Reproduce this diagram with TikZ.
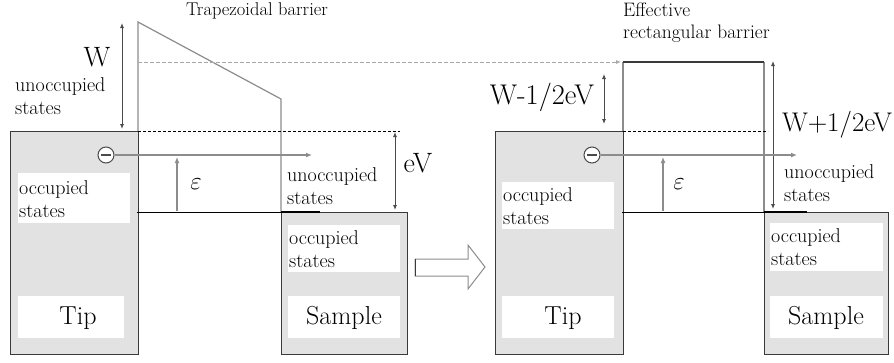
\documentclass[tikz,border=0pt]{standalone}
\usepackage{fontspec}
\usetikzlibrary{arrows.meta}
\definecolor{bandfill}{HTML}{E2E2E2}
\definecolor{bandline}{HTML}{3A3A3A}
\definecolor{barrierc}{HTML}{8C8C8C}
\definecolor{guidec}{HTML}{A8A8A8}
\definecolor{arrowc}{HTML}{4A4A4A}
\begin{document}
\begin{tikzpicture}[x=1pt,y=-1pt,
  band/.style={draw=bandline, line width=1.3pt, fill=bandfill, inner sep=0pt, anchor=north west},
  wbox/.style={fill=white, draw=none, inner sep=0pt, anchor=north west},
  small/.style={font=\fontsize{20}{23}\selectfont, align=left, inner sep=0pt},
  big/.style={font=\fontsize{28}{32}\selectfont, inner sep=0pt},
  label/.style={font=\fontsize{26}{30}\selectfont, inner sep=0pt},
  barrier/.style={draw=barrierc, line width=1.2pt},
  fermi/.style={draw=black, line width=0.9pt},
  fermithick/.style={draw=black, line width=2pt},
  levdash/.style={draw=black, line width=0.9pt, dash pattern=on 3pt off 2pt},
  guide/.style={draw=guidec, line width=0.8pt, dash pattern=on 4pt off 2pt},
  darr/.style={draw=arrowc, line width=0.9pt, {Latex[length=5pt,width=4pt]}-{Latex[length=5pt,width=4pt]}},
  garr/.style={draw=barrierc, line width=1.2pt, -{Latex[length=6pt,width=5pt]}},
  electron/.style={circle, draw=arrowc, line width=1pt, fill=white, minimum size=16pt, inner sep=0pt,
    path picture={\draw[arrowc, line width=1.2pt] ([xshift=-5pt]path picture bounding box.center) -- ([xshift=5pt]path picture bounding box.center);}}
]
\useasboundingbox (0,0) rectangle (894,362);

% ---------------- left panel ----------------
\node[band, minimum width=128pt, minimum height=223pt] (tipL) at (10,131) {};
\node[band, minimum width=126pt, minimum height=142pt] (smpL) at (281,212) {};
\node[wbox, minimum width=112pt, minimum height=50pt] (occL) at (18,173) {};
\node[small, anchor=west] (occLt) at ([xshift=1pt,yshift=-1pt]occL.west) {occupied\\states};
\node[wbox, minimum width=106pt, minimum height=42pt] (tipLbox) at (18,296) {};
\node[label] (tipLt) at (78,318) {Tip};
\node[wbox, minimum width=112pt, minimum height=47pt] (occSL) at (288,225) {};
\node[small, anchor=west] (occSLt) at ([xshift=1pt]occSL.west) {occupied\\states};
\node[wbox, minimum width=112pt, minimum height=42pt] (smpLbox) at (288,296) {};
\node[label] (smpLt) at (344,318) {Sample};

\coordinate (trapTop) at (138,22);
\coordinate (trapR) at (281,99);
\coordinate (trapB) at (281,212);
\coordinate (tipLtop) at (138,131);
\draw[barrier] (tipLtop) -- (trapTop) -- (trapR) -- (trapB);

\coordinate (guideS) at (138,62);
\coordinate (guideE) at (621,62);
\draw[guide, -{Latex[length=5pt,width=4pt]}, guidec] (guideS) -- (guideE);

\coordinate (dashLs) at (138,131);
\coordinate (dashLe) at (400,131);
\draw[levdash] (dashLs) -- (dashLe);

\coordinate (fermiLs) at (137,212);
\coordinate (fermiLm) at (281,212);
\coordinate (fermiLe) at (320,212);
\draw[fermi] (fermiLs) -- (fermiLm);
\draw[fermithick] (fermiLm) -- (fermiLe);

\coordinate (WaT) at (122,23);
\coordinate (WaB) at (122,129);
\draw[darr] (WaT) -- (WaB);
\node[big] (Wt) at (97,57) {W};
\node[small, anchor=west] (unoccL) at (15,96) {unoccupied\\states};

\coordinate (eVT) at (395,132);
\coordinate (eVB) at (395,210);
\draw[darr] (eVT) -- (eVB);
\node[big] (eVt) at (418,163) {eV};

\node[electron] (eL) at (106,155) {};
\coordinate (eLend) at (312,155);
\draw[garr] (eL) -- (eLend);

\coordinate (epsLb) at (177,211);
\coordinate (epsLt) at (177,157);
\draw[garr] (epsLb) -- (epsLt);
\node[big] (epsL) at (196,184) {$\varepsilon$};

\node[small, anchor=west] (unoccS) at (287,186) {unoccupied\\states};
\node[font=\fontsize{18.5}{22}\selectfont, inner sep=0pt] (trapt) at (257,11) {Trapezoidal barrier};

% hollow arrow
\draw[draw=barrierc, line width=1pt, fill=white] (415,259) -- (468,259) -- (468,245) -- (485,267) -- (468,289) -- (468,276) -- (415,276) -- cycle;
\draw[bandline, line width=1pt] (415,259) -- (415,276);

% ---------------- right panel ----------------
\node[band, minimum width=128pt, minimum height=223pt] (tipR) at (495,131) {};
\node[band, minimum width=124pt, minimum height=142pt] (smpR) at (764,212) {};
\node[wbox, minimum width=112pt, minimum height=47pt] (occR) at (502,182) {};
\node[small, anchor=west] (occRt) at ([xshift=1pt]occR.west) {occupied\\states};
\node[wbox, minimum width=112pt, minimum height=42pt] (tipRbox) at (502,296) {};
\node[label] (tipRt) at (563,318) {Tip};
\node[wbox, minimum width=113pt, minimum height=48pt] (occSR) at (770,223) {};
\node[small, anchor=west] (occSRt) at ([xshift=1pt]occSR.west) {occupied\\states};
\node[wbox, minimum width=113pt, minimum height=42pt] (smpRbox) at (770,296) {};
\node[label] (smpRt) at (826,318) {Sample};

\coordinate (recBL) at (623,131);
\coordinate (recTL) at (623,62);
\coordinate (recTR) at (764,62);
\coordinate (recBR) at (764,212);
\draw[barrier] (recBL) -- (recTL);
\draw[barrier] (recTR) -- (recBR);
\draw[draw=bandline, line width=1.2pt] (recTL) -- (recTR);

\coordinate (dashRs) at (623,131);
\coordinate (dashRe) at (768,131);
\draw[levdash] (dashRs) -- (dashRe);

\coordinate (fermiRs) at (622,212);
\coordinate (fermiRm) at (764,212);
\coordinate (fermiRe) at (807,212);
\draw[fermi] (fermiRs) -- (fermiRm);
\draw[fermithick] (fermiRm) -- (fermiRe);

\coordinate (WmT) at (604,74);
\coordinate (WmB) at (604,124);
\draw[darr] (WmT) -- (WmB);
\node[big, font=\fontsize{28.5}{32}\selectfont] (Wmt) at (542,97) {W-1/2eV};

\coordinate (WpT) at (773,61);
\coordinate (WpB) at (773,209);
\draw[darr] (WpT) -- (WpB);
\node[big, font=\fontsize{27}{30}\selectfont] (Wpt) at (837,125) {W+1/2eV};

\node[electron] (eR) at (592,155) {};
\coordinate (eRend) at (797,155);
\draw[garr] (eR) -- (eRend);

\coordinate (epsRb) at (663,211);
\coordinate (epsRt) at (663,157);
\draw[garr] (epsRb) -- (epsRt);
\node[big] (epsR) at (679,184) {$\varepsilon$};

\node[small, anchor=west] (unoccR) at (784,183) {unoccupied\\states};
\node[font=\fontsize{19.5}{22}\selectfont, align=left, inner sep=0pt, anchor=north west] (efft) at (623,3) {Effective\\rectangular barrier};
\end{tikzpicture}
\end{document}
